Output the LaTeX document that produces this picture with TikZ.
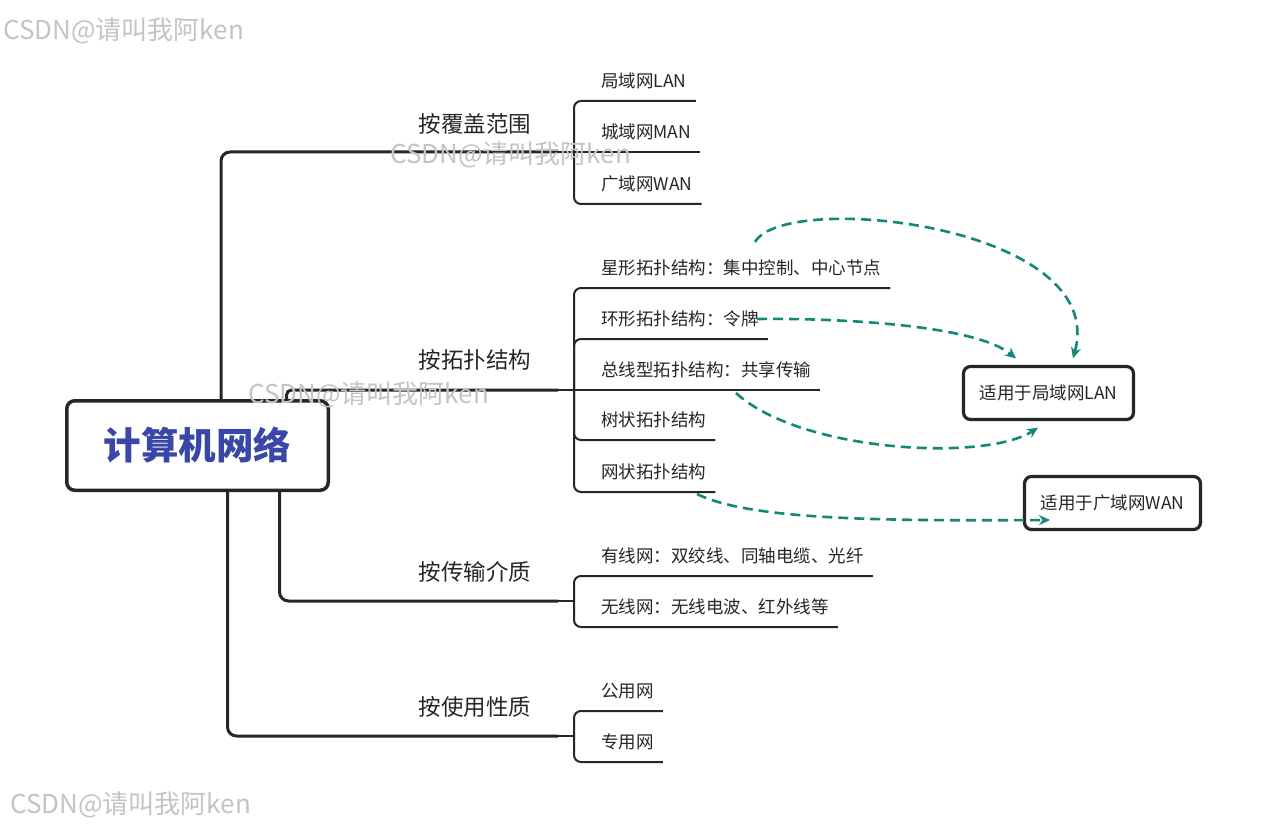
\documentclass[tikz,border=0pt]{standalone}
\usepackage{fontspec}
\setmainfont{Noto Sans CJK SC}
\usetikzlibrary{arrows.meta}
\definecolor{rootblue}{RGB}{57,72,168}
\definecolor{linkteal}{RGB}{18,136,120}
\definecolor{inkgray}{RGB}{38,38,38}
\definecolor{wmgray}{RGB}{196,196,196}

\begin{document}
\begin{tikzpicture}[x=1pt,y=-1pt,>=Stealth,
  rootbox/.style={draw=inkgray,line width=3.5pt,rounded corners=8pt,fill=white,
    minimum width=261.5pt,minimum height=89.5pt,text=rootblue,
    font=\fontsize{37.5}{40}\selectfont\bfseries},
  trunk/.style={draw=inkgray,line width=3pt,rounded corners=9pt},
  twig/.style={draw=inkgray,line width=2pt,rounded corners=7pt},
  branchlab/.style={anchor=base,text=inkgray,font=\fontsize{22.5}{26}\selectfont},
  leaf/.style={anchor=south west,inner xsep=9pt,inner ysep=0pt,text height=13pt,
    text depth=13pt,text=inkgray,font=\fontsize{17.5}{20}\selectfont},
  notebox/.style={draw=inkgray,line width=3.2pt,rounded corners=7pt,fill=white,
    inner sep=0pt,text=inkgray,font=\fontsize{17.5}{20}\selectfont},
  link/.style={draw=linkteal,line width=2.6pt,dash pattern=on 10pt off 6pt,
    -{Stealth[length=11pt,width=10pt]}},
  wmark/.style={anchor=west,inner sep=0pt,text=wmgray,font=\fontsize{26}{30}\selectfont}
]
  \path[use as bounding box,fill=white] (0,0) rectangle (1265,826);

  \node[rootbox] (root) at (197.5,445.5) {计算机网络};

  % branch ends and brackets
  \coordinate (covend) at (558,152);  \coordinate (covj) at (574,152);
  \coordinate (topend) at (558,390);  \coordinate (topj) at (574,390);
  \coordinate (medend) at (558,601);  \coordinate (medj) at (574,601);
  \coordinate (useend) at (558,736);  \coordinate (usej) at (574,736);

  \draw[trunk] ([xshift=23.5pt]root.north) |- (covend);
  \draw[trunk,rounded corners=5pt] ([xshift=89pt]root.north) |- (topend);
  \draw[trunk] ([xshift=82pt]root.south) |- (medend);
  \draw[trunk] ([xshift=30pt]root.south) |- (useend);

  \node[branchlab] (cover) at (475,132.5) {按覆盖范围};
  \node[branchlab] (topo)  at (475,368.5) {按拓扑结构};
  \node[branchlab] (media) at (475,580.5) {按传输介质};
  \node[branchlab] (usage) at (475,715.5) {按使用性质};

  \foreach \e/\j in {covend/covj, topend/topj, medend/medj, useend/usej}
    \draw[twig] (\e) -- (\j);

  \foreach \n/\j/\y/\t in {
    lan/covj/101/局域网LAN,
    wan/covj/204/广域网WAN,
    star/topj/288/星形拓扑结构：集中控制、中心节点,
    ring/topj/339/环形拓扑结构：令牌,
    tree/topj/440/树状拓扑结构,
    mesh/topj/492/网状拓扑结构,
    wired/medj/576/有线网：双绞线、同轴电缆、光纤,
    wireless/medj/627/无线网：无线电波、红外线等,
    public/usej/711/公用网,
    private/usej/762/专用网
  } {
    \node[leaf] (\n) at (592,\y) {\t};
    \draw[twig] (\j) |- (\n.south east);
  }
  \node[leaf] (man) at (592,152) {城域网MAN};
  \draw[twig] (covj) -- (man.south east);
  \node[leaf] (bus) at (592,390) {总线型拓扑结构：共享传输};
  \draw[twig] (topj) -- (bus.south east);

  % notes
  \node[notebox,minimum width=170pt,minimum height=53pt] (lanbox) at (1048.5,393) {适用于局域网LAN};
  \node[notebox,minimum width=176pt,minimum height=53pt] (wanbox) at (1112.5,503) {适用于广域网WAN};

  \coordinate (starout) at (755,242);
  \coordinate (ringout) at (757,319);
  \coordinate (busout)  at (736,393);
  \coordinate (meshout) at (697,494);
  \draw[link] (starout) .. controls (785,190) and (1110,225) .. ([xshift=24.5pt,yshift=6.5pt]lanbox.north);
  \draw[link] (ringout) .. controls (840,318) and (975,325) .. ([xshift=-32.5pt,yshift=6.5pt]lanbox.north);
  \draw[link] (busout) .. controls (800,452) and (985,462) .. ([xshift=-10.5pt,yshift=-6.5pt]lanbox.south);
  \draw[link] (meshout) .. controls (750,520) and (880,521) .. ([xshift=-62.5pt,yshift=-17pt]wanbox.center);

  \foreach \n/\x/\y in {wma/3/31, wmb/390/155, wmc/248/395, wmd/10/805}
    \node[wmark] (\n) at (\x,\y) {CSDN@请叫我阿ken};
\end{tikzpicture}
\end{document}
